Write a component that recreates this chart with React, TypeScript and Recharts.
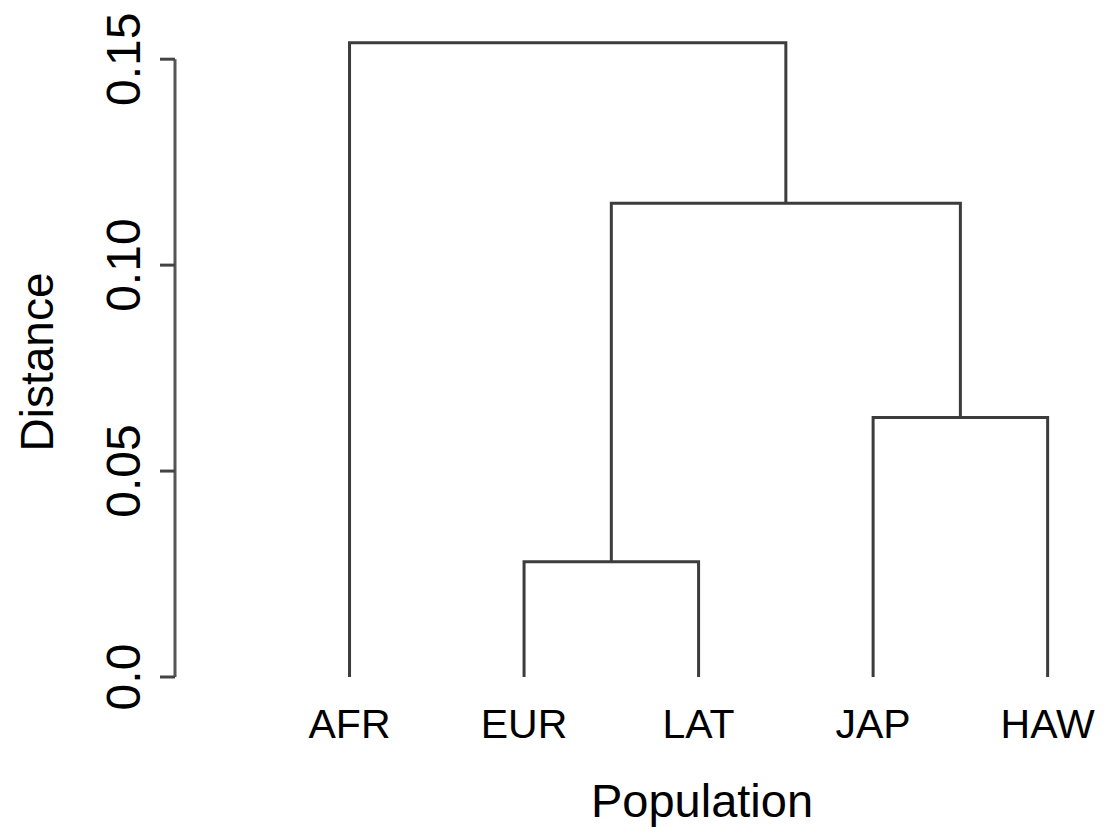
import React from 'react';
import { LineChart, Line, XAxis, YAxis } from 'recharts';

// Leaf labels and their positions along the x axis
const leafLabels = ['AFR', 'EUR', 'LAT', 'JAP', 'HAW'];
const leafPositions = [1, 2, 3, 4, 5];

// Y axis ticks
const yTicks = [0, 0.05, 0.1, 0.15];
const yTickLabels = ['0.0', '0.05', '0.10', '0.15'];

// Merge heights (distance)
const heightEurLat = 0.028;
const heightJapHaw = 0.063;
const heightEurLatJapHaw = 0.115;
const heightRoot = 0.154;

const FONT = '"Liberation Sans", Arial, Helvetica, sans-serif';
const LINE_COLOR = '#3c3c3c';

type Pt = { x: number; y: number };

// build a dendrogram "U" link between two children at a merge height
const link = (lx: number, lh: number, rx: number, rh: number, h: number): Pt[] => [
  { x: lx, y: lh },
  { x: lx, y: h },
  { x: rx, y: h },
  { x: rx, y: rh },
];

const xAFR = leafPositions[0];
const xEUR = leafPositions[1];
const xLAT = leafPositions[2];
const xJAP = leafPositions[3];
const xHAW = leafPositions[4];
const xEL = (xEUR + xLAT) / 2;
const xJH = (xJAP + xHAW) / 2;
const xELJH = (xEL + xJH) / 2;

const links: Pt[][] = [
  link(xEUR, 0, xLAT, 0, heightEurLat),
  link(xJAP, 0, xHAW, 0, heightJapHaw),
  link(xEL, heightEurLat, xJH, heightJapHaw, heightEurLatJapHaw),
  link(xAFR, 0, xELJH, heightEurLatJapHaw, heightRoot),
];

const axisLineData: Pt[] = [
  { x: 0, y: yTicks[0] },
  { x: 0, y: yTicks[yTicks.length - 1] },
];

const YTick = (props: any) => {
  const { x, y, index } = props;
  const tx = x - 20;
  return (
    <text
      x={tx}
      y={y}
      transform={`rotate(-90, ${tx}, ${y})`}
      textAnchor="middle"
      fontFamily={FONT}
      fontSize={48}
      fill="#000"
    >
      {yTickLabels[index]}
    </text>
  );
};

const XTick = (props: any) => {
  const { x, y, payload } = props;
  const i = leafPositions.indexOf(payload.value);
  return (
    <text x={x} y={y + 61} textAnchor="middle" fontFamily={FONT} fontSize={41} fill="#000">
      {leafLabels[i]}
    </text>
  );
};

export default function App() {
  return (
    <div style={{ width: 1105, height: 829, background: '#fff' }}>
      <LineChart
        width={1105}
        height={829}
        margin={{ top: 10, right: 13, left: 0, bottom: 0 }}
      >
        <XAxis
          type="number"
          dataKey="x"
          domain={[0, 5.3]}
          ticks={leafPositions}
          axisLine={false}
          tickLine={false}
          tickSize={0}
          tickMargin={0}
          height={160}
          interval={0}
          tick={<XTick />}
          label={{
            content: () => (
              <text x={694} y={809} textAnchor="middle" fontFamily={FONT} fontSize={47} fill="#000">
                Population
              </text>
            ),
          }}
        />
        <YAxis
          type="number"
          dataKey="y"
          domain={[0, 0.16]}
          ticks={yTicks}
          width={167}
          axisLine={false}
          tickLine={{ stroke: '#444', strokeWidth: 3 }}
          tickSize={15}
          tickMargin={0}
          interval={0}
          tick={<YTick />}
          label={{
            content: () => (
              <text
                x={45}
                y={354}
                transform="rotate(-90, 45, 354)"
                textAnchor="middle"
                fontFamily={FONT}
                fontSize={46}
                fill="#000"
              >
                Distance
              </text>
            ),
          }}
        />
        <Line
          data={axisLineData}
          dataKey="y"
          stroke="#555"
          strokeWidth={3}
          dot={false}
          isAnimationActive={false}
          type="linear"
        />
        {links.map((d, i) => (
          <Line
            key={i}
            data={d}
            dataKey="y"
            stroke={LINE_COLOR}
            strokeWidth={3}
            dot={false}
            isAnimationActive={false}
            type="linear"
          />
        ))}
      </LineChart>
    </div>
  );
}
